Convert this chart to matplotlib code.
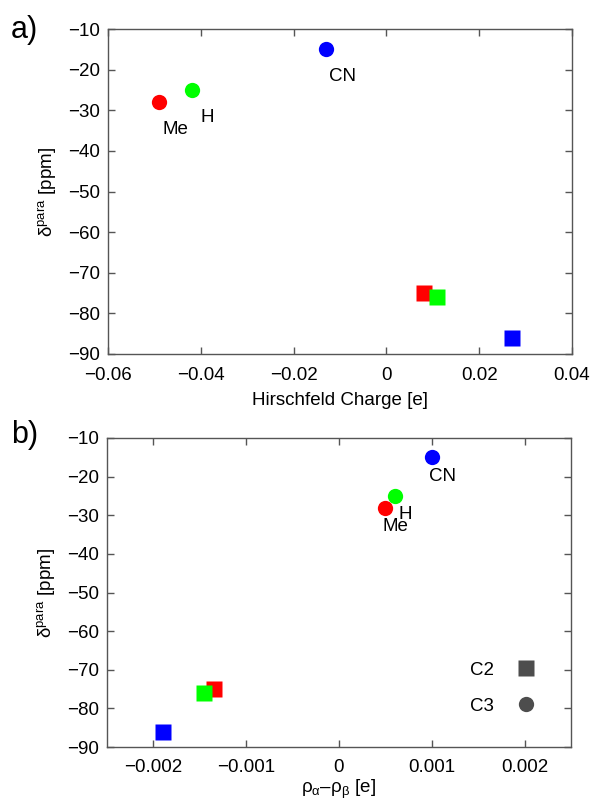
import matplotlib
matplotlib.use('Agg')
import matplotlib.pyplot as plt
from matplotlib.lines import Line2D

plt.rcParams['font.family'] = ['Liberation Sans', 'DejaVu Sans']
plt.rcParams['mathtext.fontset'] = 'custom'
plt.rcParams['mathtext.rm'] = 'Liberation Sans'
plt.rcParams['mathtext.it'] = 'Liberation Sans'
plt.rcParams['font.size'] = 13.5

# substituents, colours
names = ['Me', 'H', 'CN']
colors = ['#ff0000', '#00ff00', '#0000ff']

# paramagnetic shifts (ppm)
shift_c2 = [-75, -76, -86]
shift_c3 = [-28, -25, -15]

# a) Hirshfeld charges
charge_c2 = [0.008, 0.011, 0.027]
charge_c3 = [-0.049, -0.042, -0.013]

# b) spin density rho_a - rho_b
spin_c2 = [-0.00135, -0.00145, -0.0019]
spin_c3 = [0.0005, 0.0006, 0.001]

xticks_a = [-0.06, -0.04, -0.02, 0, 0.02, 0.04]
xlabels_a = ['\u22120.06', '\u22120.04', '\u22120.02', '0', '0.02', '0.04']
xticks_b = [-0.002, -0.001, 0, 0.001, 0.002]
xlabels_b = ['\u22120.002', '\u22120.001', '0', '0.001', '0.002']
yticks = [-90, -80, -70, -60, -50, -40, -30, -20, -10]

spine_col = '#555555'
msize = 11
fs = 13.5


def style(ax):
    for s in ax.spines.values():
        s.set_color(spine_col)
        s.set_linewidth(1.0)
    ax.tick_params(direction='in', length=5, width=1, color=spine_col,
                   top=True, right=True, labelsize=fs, pad=6)
    ax.tick_params(axis='x', pad=9)
    ax.set_yticks(yticks)
    ax.set_ylim(-90, -10)
    ax.set_ylabel('$\\mathregular{\u03b4^{para}}$ [ppm]', labelpad=6)


fig = plt.figure(figsize=(5.92, 8.0), dpi=100)

# ---- a)
ax1 = fig.add_axes([0.1824, 0.5575, 0.7838, 0.40625])
for i in range(3):
    ax1.plot(charge_c2[i], shift_c2[i], 's', color=colors[i], ms=msize, mec='none')
    ax1.plot(charge_c3[i], shift_c3[i], 'o', color=colors[i], ms=msize, mec='none')
    ax1.annotate(names[i], (charge_c3[i], shift_c3[i]), xytext=(11.5, -19.5),
                 textcoords='offset points', ha='center', va='center', fontsize=fs)
ax1.set_xlim(-0.06, 0.04)
ax1.set_xticks(xticks_a)
ax1.set_xticklabels(xlabels_a)
ax1.set_xlabel('Hirschfeld Charge [e]', labelpad=6)
style(ax1)
fig.text(0.018, 0.963, 'a)', fontsize=22, va='center')

# ---- b)
ax2 = fig.add_axes([0.1807, 0.06625, 0.7838, 0.38625])
for i in range(3):
    ax2.plot(spin_c2[i], shift_c2[i], 's', color=colors[i], ms=msize, mec='none')
    ax2.plot(spin_c3[i], shift_c3[i], 'o', color=colors[i], ms=msize, mec='none')
    ax2.annotate(names[i], (spin_c3[i], shift_c3[i]), xytext=(7.5, -13.5),
                 textcoords='offset points', ha='center', va='center', fontsize=fs)
ax2.set_xlim(-0.0025, 0.0025)
ax2.set_xticks(xticks_b)
ax2.set_xticklabels(xlabels_b)
ax2.set_xlabel('$\\mathregular{\u03c1_{\u03b1}}$\u2013$\\mathregular{\u03c1_{\u03b2}}$ [e]', labelpad=1)
style(ax2)
fig.text(0.018, 0.456, 'b)', fontsize=22, va='center')

handles = [Line2D([], [], ls='none', marker='s', color='#4d4d4d', ms=msize, mec='none'),
           Line2D([], [], ls='none', marker='o', color='#4d4d4d', ms=msize, mec='none')]
ax2.legend(handles, ['C2', 'C3'], loc='lower right', bbox_to_anchor=(0.96, 0.05),
           frameon=False, markerfirst=False, labelspacing=1.0, handletextpad=1.2,
           handlelength=1.0, fontsize=fs)

fig.savefig('out.png', dpi=100)
